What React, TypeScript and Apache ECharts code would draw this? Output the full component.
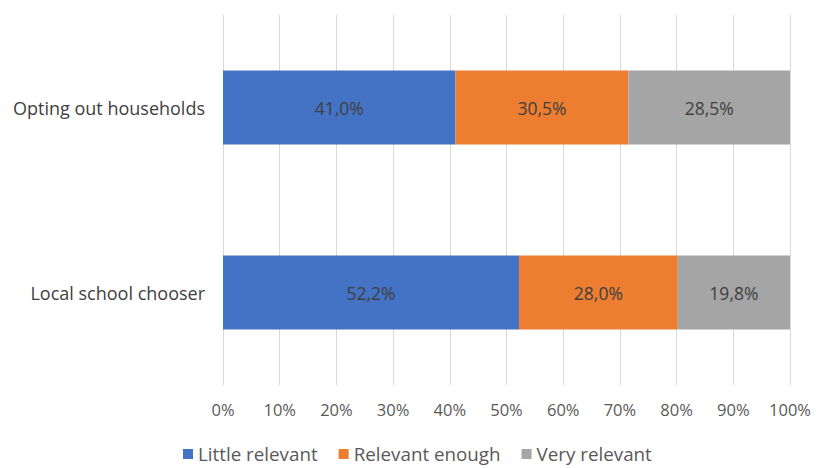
import React, { useEffect, useRef } from "react";
import * as echarts from "echarts";

const categories = ["Local school chooser", "Opting out households"];
const seriesNames = ["Little relevant", "Relevant enough", "Very relevant"];
const littleRelevant = [52.2, 41.0];
const relevantEnough = [28.0, 30.5];
const veryRelevant = [19.8, 28.5];
const colors = ["#4472C4", "#ED7D31", "#A5A5A5"];

const FONT = "'Open Sans', 'Liberation Sans', sans-serif";

export default function App() {
  const ref = useRef<HTMLDivElement>(null);
  useEffect(() => {
    if (!ref.current) return;
    const chart = echarts.init(ref.current, null, { renderer: "svg" });
    const values = [littleRelevant, relevantEnough, veryRelevant];
    chart.setOption({
      animation: false,
      textStyle: { fontFamily: FONT },
      grid: { left: 223, right: 26, top: 15, bottom: 83, containLabel: false },
      legend: {
        top: 443,
        left: 183,
        padding: 0,
        itemWidth: 10,
        itemHeight: 10,
        itemGap: 21,
        icon: "rect",
        textStyle: { color: "#595959", fontSize: 18.8, lineHeight: 22, fontFamily: FONT },
        data: seriesNames,
      },
      xAxis: {
        type: "value",
        min: 0,
        max: 100,
        interval: 10,
        axisLabel: {
          formatter: (v: number) => v + "%",
          color: "#595959",
          fontSize: 16.5,
          margin: 16,
          fontFamily: FONT,
        },
        splitLine: { lineStyle: { color: "#D9D9D9", width: 1 } },
        axisLine: { show: false },
        axisTick: { show: false },
      },
      yAxis: {
        type: "category",
        data: categories,
        axisLabel: { color: "#404040", fontSize: 18, margin: 18, fontFamily: FONT },
        axisLine: { show: false },
        axisTick: { show: false },
      },
      series: seriesNames.map((name, i) => ({
        name,
        type: "bar",
        stack: "total",
        barWidth: 74,
        itemStyle: { color: colors[i] },
        label: {
          show: true,
          position: "inside",
          color: "#404040",
          fontSize: 17.5,
          fontFamily: FONT,
          formatter: (p: any) => p.value.toFixed(1).replace(".", ",") + "%",
        },
        data: values[i],
      })),
    });
    return () => chart.dispose();
  }, []);
  return (
    <div
      ref={ref}
      style={{ position: "absolute", left: 0, top: 0, width: 816, height: 468 }}
    />
  );
}
